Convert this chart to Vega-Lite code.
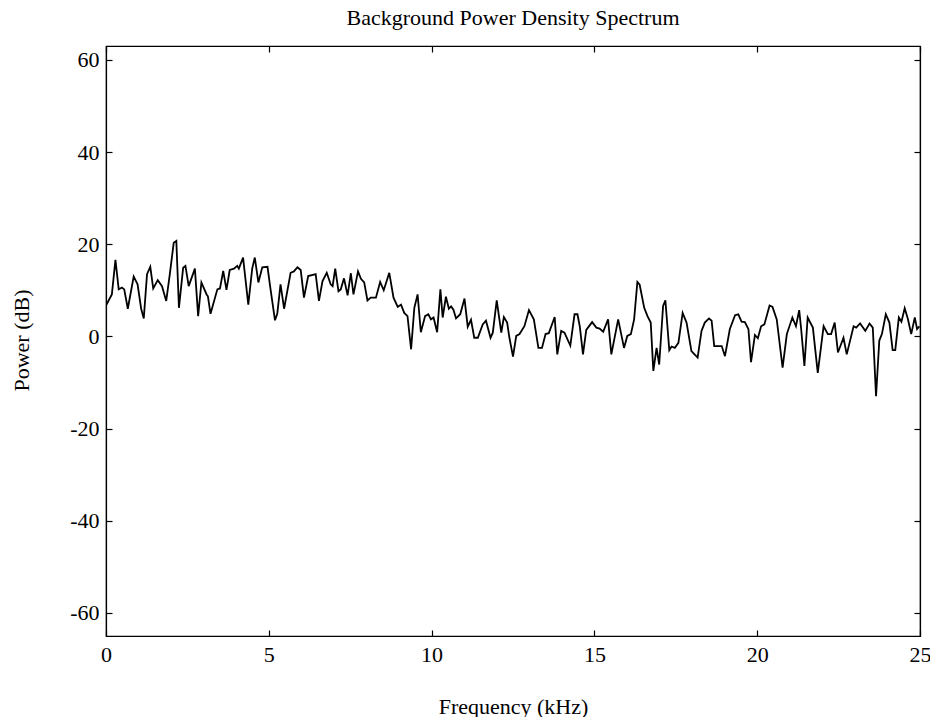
{
  "$schema": "https://vega.github.io/schema/vega-lite/v6.json",
  "autosize": {"type": "none"},
  "padding": {"left": 106, "top": 46, "right": 10, "bottom": 81},
  "width": 814,
  "height": 590,
  "background": "white",
  "title": {"text": "Background Power Density Spectrum", "font": "Liberation Serif", "fontSize": 22, "fontWeight": "normal", "color": "black", "anchor": "middle", "baseline": "alphabetic", "offset": 20, "dy": 22},
  "config": {
    "view": {"stroke": "black", "strokeWidth": 1.2},
    "axis": {"font": "Liberation Serif", "labelFont": "Liberation Serif", "titleFont": "Liberation Serif", "labelFontSize": 22, "titleFontSize": 22, "titleFontWeight": "normal", "labelColor": "black", "titleColor": "black", "domainColor": "black", "tickColor": "black", "domainWidth": 1.2, "tickWidth": 1.2, "grid": false, "tickSize": -6, "labelExpr": "'' + datum.value"}
  },
  "data": {"values": [
    {"freq": 0, "power": 6.7}, {"freq": 0.18, "power": 9.1}, {"freq": 0.29, "power": 16.6}, {"freq": 0.39, "power": 10.2},
    {"freq": 0.49, "power": 10.6}, {"freq": 0.56, "power": 10.2}, {"freq": 0.67, "power": 6.0}, {"freq": 0.85, "power": 13.0},
    {"freq": 0.97, "power": 11.3}, {"freq": 1.08, "power": 6.0}, {"freq": 1.16, "power": 3.9}, {"freq": 1.26, "power": 13.5},
    {"freq": 1.36, "power": 15.1}, {"freq": 1.45, "power": 10.4}, {"freq": 1.59, "power": 12.2}, {"freq": 1.72, "power": 10.9},
    {"freq": 1.85, "power": 7.7}, {"freq": 1.96, "power": 13.5}, {"freq": 2.08, "power": 20.3}, {"freq": 2.16, "power": 20.7},
    {"freq": 2.24, "power": 6.2}, {"freq": 2.37, "power": 14.9}, {"freq": 2.44, "power": 15.3}, {"freq": 2.54, "power": 10.9},
    {"freq": 2.73, "power": 14.7}, {"freq": 2.83, "power": 4.4}, {"freq": 2.93, "power": 11.7}, {"freq": 3.09, "power": 9.1},
    {"freq": 3.13, "power": 8.7}, {"freq": 3.21, "power": 4.9}, {"freq": 3.42, "power": 10.2}, {"freq": 3.50, "power": 10.4},
    {"freq": 3.60, "power": 14.2}, {"freq": 3.70, "power": 10.1}, {"freq": 3.80, "power": 14.4}, {"freq": 3.93, "power": 14.7},
    {"freq": 4.03, "power": 15.3}, {"freq": 4.08, "power": 14.7}, {"freq": 4.21, "power": 17.1}, {"freq": 4.37, "power": 6.9},
    {"freq": 4.49, "power": 14.7}, {"freq": 4.57, "power": 17.1}, {"freq": 4.68, "power": 11.7}, {"freq": 4.80, "power": 15.0},
    {"freq": 4.96, "power": 15.1}, {"freq": 5.04, "power": 10.9}, {"freq": 5.19, "power": 3.5}, {"freq": 5.26, "power": 4.9},
    {"freq": 5.36, "power": 11.3}, {"freq": 5.47, "power": 6.0}, {"freq": 5.67, "power": 13.8}, {"freq": 5.77, "power": 14.1},
    {"freq": 5.88, "power": 15.0}, {"freq": 5.98, "power": 14.4}, {"freq": 6.08, "power": 8.4}, {"freq": 6.21, "power": 13.1},
    {"freq": 6.44, "power": 13.5}, {"freq": 6.54, "power": 7.7}, {"freq": 6.65, "power": 12.0}, {"freq": 6.78, "power": 13.8},
    {"freq": 6.90, "power": 11.3}, {"freq": 6.96, "power": 10.9}, {"freq": 7.04, "power": 14.7}, {"freq": 7.14, "power": 9.8},
    {"freq": 7.21, "power": 10.2}, {"freq": 7.31, "power": 12.6}, {"freq": 7.42, "power": 8.9}, {"freq": 7.52, "power": 13.7},
    {"freq": 7.60, "power": 9.1}, {"freq": 7.74, "power": 14.1}, {"freq": 7.83, "power": 12.5}, {"freq": 7.93, "power": 11.7},
    {"freq": 8.03, "power": 7.8}, {"freq": 8.13, "power": 8.4}, {"freq": 8.29, "power": 8.4}, {"freq": 8.42, "power": 11.8},
    {"freq": 8.53, "power": 10.0}, {"freq": 8.70, "power": 13.8}, {"freq": 8.83, "power": 8.4}, {"freq": 8.96, "power": 6.4},
    {"freq": 9.06, "power": 6.9}, {"freq": 9.16, "power": 5.1}, {"freq": 9.26, "power": 4.4}, {"freq": 9.37, "power": -2.8},
    {"freq": 9.47, "power": 6.2}, {"freq": 9.57, "power": 9.1}, {"freq": 9.67, "power": 0.9}, {"freq": 9.80, "power": 4.4},
    {"freq": 9.90, "power": 4.8}, {"freq": 9.98, "power": 3.7}, {"freq": 10.06, "power": 4.1}, {"freq": 10.17, "power": 0.9},
    {"freq": 10.27, "power": 10.2}, {"freq": 10.34, "power": 4.1}, {"freq": 10.44, "power": 8.6}, {"freq": 10.53, "power": 6.0},
    {"freq": 10.60, "power": 6.5}, {"freq": 10.67, "power": 5.8}, {"freq": 10.75, "power": 3.9}, {"freq": 10.88, "power": 4.8},
    {"freq": 11.01, "power": 8.2}, {"freq": 11.11, "power": 2.1}, {"freq": 11.21, "power": 3.6}, {"freq": 11.31, "power": -0.3},
    {"freq": 11.42, "power": -0.3}, {"freq": 11.57, "power": 2.6}, {"freq": 11.67, "power": 3.4}, {"freq": 11.81, "power": -0.3},
    {"freq": 11.88, "power": 0.8}, {"freq": 12.00, "power": 7.8}, {"freq": 12.14, "power": 0.8}, {"freq": 12.22, "power": 4.2},
    {"freq": 12.32, "power": 3.0}, {"freq": 12.39, "power": -0.3}, {"freq": 12.50, "power": -4.4}, {"freq": 12.60, "power": 0.1},
    {"freq": 12.70, "power": 0.5}, {"freq": 12.85, "power": 2.2}, {"freq": 12.99, "power": 5.7}, {"freq": 13.14, "power": 3.7},
    {"freq": 13.28, "power": -2.5}, {"freq": 13.39, "power": -2.5}, {"freq": 13.50, "power": 0.5}, {"freq": 13.60, "power": 0.7},
    {"freq": 13.78, "power": 4.2}, {"freq": 13.86, "power": -3.9}, {"freq": 13.98, "power": 1.2}, {"freq": 14.08, "power": 0.8},
    {"freq": 14.26, "power": -2.0}, {"freq": 14.39, "power": 4.8}, {"freq": 14.48, "power": 4.8}, {"freq": 14.55, "power": 2.2},
    {"freq": 14.65, "power": -3.9}, {"freq": 14.75, "power": 1.4}, {"freq": 14.93, "power": 3.1}, {"freq": 15.06, "power": 1.9},
    {"freq": 15.16, "power": 1.7}, {"freq": 15.27, "power": 1.0}, {"freq": 15.42, "power": 3.7}, {"freq": 15.52, "power": -3.9},
    {"freq": 15.73, "power": 3.7}, {"freq": 15.91, "power": -2.5}, {"freq": 16.01, "power": 0.1}, {"freq": 16.12, "power": 0.5},
    {"freq": 16.22, "power": 3.7}, {"freq": 16.32, "power": 11.8}, {"freq": 16.39, "power": 11.2}, {"freq": 16.53, "power": 6.2},
    {"freq": 16.63, "power": 4.4}, {"freq": 16.73, "power": 3.0}, {"freq": 16.81, "power": -7.5}, {"freq": 16.91, "power": -2.5},
    {"freq": 16.99, "power": -6.1}, {"freq": 17.11, "power": 6.6}, {"freq": 17.18, "power": 7.8}, {"freq": 17.30, "power": -3.0},
    {"freq": 17.37, "power": -2.2}, {"freq": 17.47, "power": -2.5}, {"freq": 17.58, "power": -1.4}, {"freq": 17.71, "power": 5.1},
    {"freq": 17.83, "power": 3.0}, {"freq": 17.98, "power": -3.2}, {"freq": 18.17, "power": -4.6}, {"freq": 18.29, "power": 1.2},
    {"freq": 18.39, "power": 3.0}, {"freq": 18.52, "power": 3.9}, {"freq": 18.60, "power": 3.4}, {"freq": 18.68, "power": -2.1},
    {"freq": 18.91, "power": -2.1}, {"freq": 19.01, "power": -4.3}, {"freq": 19.16, "power": 1.6}, {"freq": 19.32, "power": 4.6},
    {"freq": 19.42, "power": 4.8}, {"freq": 19.52, "power": 3.2}, {"freq": 19.62, "power": 3.1}, {"freq": 19.73, "power": 1.6},
    {"freq": 19.81, "power": -5.6}, {"freq": 19.93, "power": 0.3}, {"freq": 20.02, "power": -0.4}, {"freq": 20.12, "power": 2.2},
    {"freq": 20.22, "power": 2.6}, {"freq": 20.38, "power": 6.7}, {"freq": 20.47, "power": 6.4}, {"freq": 20.60, "power": 3.7},
    {"freq": 20.78, "power": -6.8}, {"freq": 20.91, "power": 0.5}, {"freq": 21.08, "power": 4.1}, {"freq": 21.19, "power": 2.2},
    {"freq": 21.29, "power": 5.7}, {"freq": 21.35, "power": 1.6}, {"freq": 21.45, "power": -6.4}, {"freq": 21.55, "power": 4.1},
    {"freq": 21.71, "power": 1.9}, {"freq": 21.86, "power": -7.9}, {"freq": 22.04, "power": 2.2}, {"freq": 22.17, "power": 0.5},
    {"freq": 22.27, "power": 0.5}, {"freq": 22.38, "power": 3.0}, {"freq": 22.48, "power": -3.5}, {"freq": 22.65, "power": -0.3},
    {"freq": 22.75, "power": -3.9}, {"freq": 22.96, "power": 2.2}, {"freq": 23.04, "power": 1.9}, {"freq": 23.16, "power": 2.8},
    {"freq": 23.32, "power": 1.2}, {"freq": 23.45, "power": 2.8}, {"freq": 23.55, "power": 1.9}, {"freq": 23.65, "power": -13.0},
    {"freq": 23.75, "power": -0.9}, {"freq": 23.83, "power": 0.5}, {"freq": 23.95, "power": 4.8}, {"freq": 24.06, "power": 3.0},
    {"freq": 24.16, "power": -3.0}, {"freq": 24.24, "power": -3.0}, {"freq": 24.35, "power": 4.1}, {"freq": 24.43, "power": 3.2},
    {"freq": 24.53, "power": 6.1}, {"freq": 24.63, "power": 3.7}, {"freq": 24.73, "power": 0.5}, {"freq": 24.84, "power": 4.1},
    {"freq": 24.91, "power": 1.6}, {"freq": 24.98, "power": 2.2}
  ]},
  "layer": [
    {
      "mark": {"type": "line", "color": "black", "strokeWidth": 1.8, "clip": true},
      "encoding": {
        "x": {"field": "freq", "type": "quantitative", "scale": {"domain": [0, 25], "nice": false, "zero": false},
              "axis": {"orient": "bottom", "title": "Frequency (kHz)", "values": [0, 5, 10, 15, 20, 25], "labelPadding": 14, "labelFlush": false, "titleX": 407, "titleY": 77, "titleBaseline": "alphabetic"}},
        "y": {"field": "power", "type": "quantitative", "scale": {"domain": [-65, 63], "nice": false, "zero": false},
              "axis": {"orient": "left", "title": "Power (dB)", "values": [-60, -40, -20, 0, 20, 40, 60], "labelPadding": 13, "labelFlush": false, "titleX": -78, "titleY": 294, "titleBaseline": "alphabetic", "titleAngle": -90}}
      }
    },
    {
      "mark": {"type": "line", "color": "black", "opacity": 0},
      "encoding": {
        "x": {"field": "freq", "type": "quantitative",
              "axis": {"orient": "top", "title": null, "labels": false, "values": [0, 5, 10, 15, 20, 25]}},
        "y": {"field": "power", "type": "quantitative",
              "axis": {"orient": "right", "title": null, "labels": false, "values": [-60, -40, -20, 0, 20, 40, 60]}}
      }
    }
  ],
  "resolve": {"axis": {"x": "independent", "y": "independent"}}
}
